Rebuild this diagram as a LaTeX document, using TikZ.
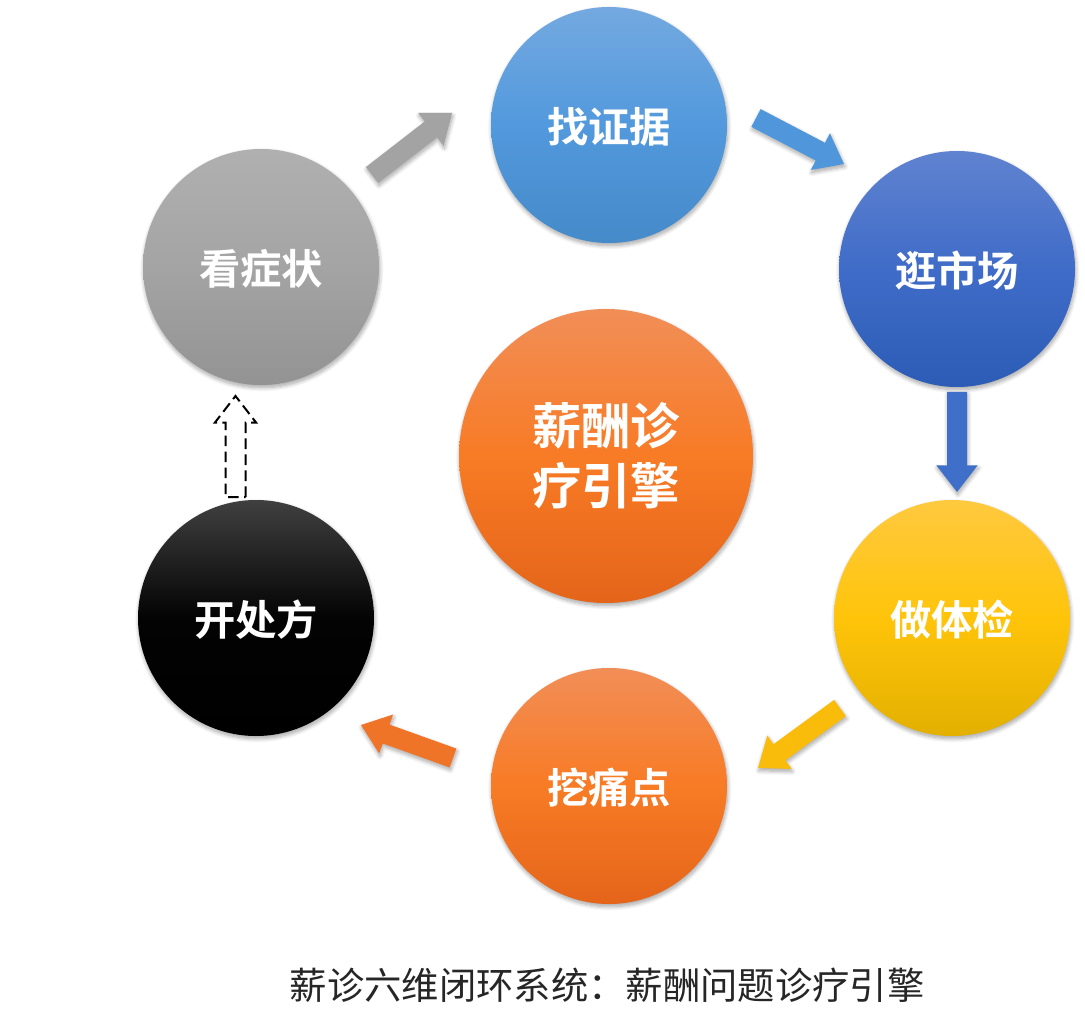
\documentclass[tikz,border=0pt]{standalone}
\usepackage{fontspec}
\setmainfont{Noto Sans CJK SC}
\newfontfamily\cjkbold[BoldFont=*]{Noto Sans CJK SC Bold}
\usetikzlibrary{calc,shadows.blur}

\tikzset{every picture/.style={line width=0.75pt}}
\tikzset{
  softshadow/.style={blur shadow={shadow xshift=0.6pt,shadow yshift=-2pt,shadow blur steps=8,shadow blur radius=3pt,shadow opacity=35}},
  disc/.style={circle,minimum size=177pt,inner sep=0pt,softshadow,text=white,text height=30pt,text depth=4pt,font=\cjkbold\fontsize{31}{38}\selectfont},
  bigdisc/.style={circle,minimum size=220.5pt,inner sep=0pt,softshadow,text=white,align=center,font=\cjkbold\fontsize{37}{45}\selectfont},
  graydisc/.style={disc,top color=gray1,bottom color=gray3,middle color=gray2},
  skydisc/.style={disc,top color=sky1,bottom color=sky3,middle color=sky2},
  navydisc/.style={disc,top color=navy1,bottom color=navy3,middle color=navy2},
  golddisc/.style={disc,top color=gold1,bottom color=gold3,middle color=gold2},
  rustdisc/.style={disc,top color=rust1,bottom color=rust3,middle color=rust2},
  blackdisc/.style={disc,top color=black1,bottom color=black,middle color=black2},
  solidarrow/.style={softshadow,draw=none,fill=#1},
  dasharrow/.style={draw=black,line width=1.5pt,dash pattern=on 8pt off 4pt}
}
\definecolor{gray1}{HTML}{B0B0B0}\definecolor{gray2}{HTML}{A4A4A4}\definecolor{gray3}{HTML}{939393}
\definecolor{sky1}{HTML}{74A9E0}\definecolor{sky2}{HTML}{5299DD}\definecolor{sky3}{HTML}{458AC9}
\definecolor{navy1}{HTML}{6083D0}\definecolor{navy2}{HTML}{3F6CC8}\definecolor{navy3}{HTML}{2C5CB6}
\definecolor{gold1}{HTML}{FFC93F}\definecolor{gold2}{HTML}{FFC40A}\definecolor{gold3}{HTML}{E3B000}
\definecolor{rust1}{HTML}{F18E57}\definecolor{rust2}{HTML}{F87B25}\definecolor{rust3}{HTML}{E4651A}
\definecolor{black1}{HTML}{404040}\definecolor{black2}{HTML}{030303}
\definecolor{arrowsky}{HTML}{5096DA}\definecolor{arrownavy}{HTML}{3F6FC8}
\definecolor{arrowgold}{HTML}{F9BC0A}\definecolor{arrowrust}{HTML}{EF7428}\definecolor{arrowgray}{HTML}{A3A3A3}

% tail, tip: half shaft 7.5pt, head 20pt long, half head 15.5pt
\newcommand{\blockarrow}[3][]{%
  \path[#1] ($(#2)!7.5pt!90:(#3)$) -- ($($(#3)!20pt!(#2)$)!7.5pt!90:(#3)$) -- ($($(#3)!20pt!(#2)$)!15.5pt!90:(#3)$)
    -- (#3) -- ($($(#3)!20pt!(#2)$)!15.5pt!-90:(#3)$) -- ($($(#3)!20pt!(#2)$)!7.5pt!-90:(#3)$) -- ($(#2)!7.5pt!-90:(#3)$) -- cycle;}

\begin{document}
\begin{tikzpicture}[x=0.75pt,y=0.75pt,yscale=-1,xscale=1]
\useasboundingbox (0,0) rectangle (1085,1030);

%discs
\node[graydisc] (kan) at (261,267) {看症状};
\node[skydisc] (zheng) at (609,125) {找证据};
\node[navydisc] (guang) at (957,269) {逛市场};
\node[golddisc] (ti) at (952,618) {做体检};
\node[rustdisc] (wa) at (609,786) {挖痛点};
\node[blackdisc] (kai) at (256,618) {开处方};
\node[top color=rust1,bottom color=rust3,middle color=rust2,bigdisc] (yinqing) at (606,456) {薪酬诊\\疗引擎};

%arrow ends
\coordinate (kanout) at ($(kan)+(111,-92)$);
\coordinate (zhengin) at ($(zheng)+(-157,-12)$);
\coordinate (zhengout) at ($(zheng)+(147,-7)$);
\coordinate (guangin) at ($(guang)+(-113,-105)$);
\coordinate (guangout) at ($(guang)+(0,123)$);
\coordinate (tiin) at ($(ti)+(5,-126)$);
\coordinate (tiout) at ($(ti)+(-112,90)$);
\coordinate (wain) at ($(wa)+(149,-18)$);
\coordinate (waout) at ($(wa)+(-156,-28)$);
\coordinate (kaiin) at ($(kai)+(105,107)$);
\coordinate (kaiout) at ($(kai)+(-20.5,-121)$);
\coordinate (kanin) at ($(kan)+(-25.5,129)$);

%arrows
\blockarrow[solidarrow=arrowgray]{kanout}{zhengin}
\blockarrow[solidarrow=arrowsky]{zhengout}{guangin}
\blockarrow[solidarrow=arrownavy]{guangout}{tiin}
\blockarrow[solidarrow=arrowgold]{tiout}{wain}
\blockarrow[solidarrow=arrowrust]{waout}{kaiin}
\blockarrow[dasharrow]{kaiout}{kanin}

%caption
\node[font=\fontsize{28}{34}\selectfont,text=black!85] (caption) at (607,985) {薪诊六维闭环系统：薪酬问题诊疗引擎};
\end{tikzpicture}
\end{document}
